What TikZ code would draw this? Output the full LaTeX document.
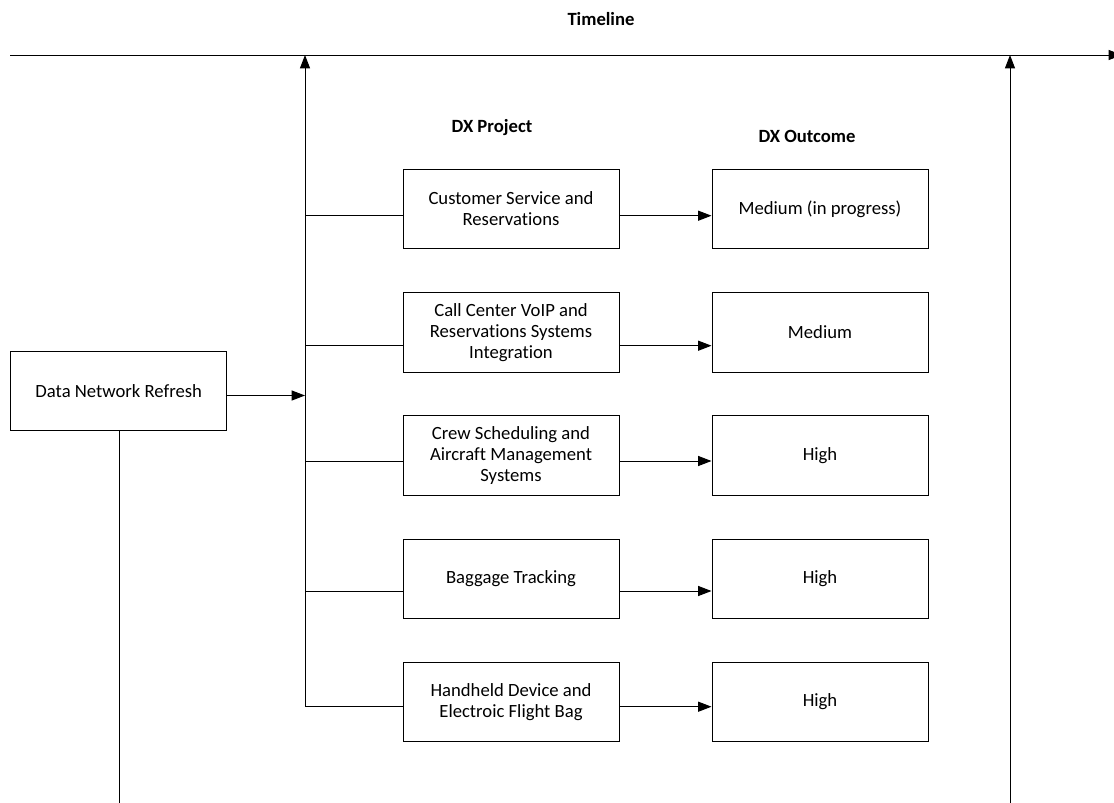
\documentclass[tikz,border=0pt]{standalone}
\usepackage{fontspec}
\setmainfont{Carlito}[Ligatures=NoCommon]
\usetikzlibrary{arrows.meta}
\begin{document}
\begin{tikzpicture}[x=0.75pt,y=-0.75pt,
  font=\fontsize{14}{15.75}\selectfont,
  line width=0.75pt,
  box/.style={draw, align=center, inner sep=2pt,
    minimum width=162pt, minimum height=59.5pt},
  head/.style={font=\fontsize{14}{16}\selectfont\bfseries},
  link/.style={-{Triangle[length=10pt,width=7.5pt]}},
  plain/.style={-}]
\useasboundingbox (0,0) rectangle (1114,803);

% headings
\node[head] (tl) at (601,19) {Timeline};
\node[head] (hp) at (492,128) {DX Project};
\node[head] (ho) at (807,136) {DX Outcome};

% timeline and the two upright markers
\coordinate (t0) at (10,55);
\coordinate (t1) at (1122,55);
\coordinate (sTop) at (305,55);
\coordinate (rTop) at (1010,55);
\coordinate (rBot) at (1010,803);
\draw[link] (t0) -- (t1);
\draw[link] (rBot) -- (rTop);

% source project
\node[box] (dnr) at (118.7,391.3) {Data Network Refresh};
\coordinate (dnrIn) at (305,395.5);
\coordinate (dnrBot) at (119,803);
\draw[plain] (dnr.south -| dnrBot) -- (dnrBot);

% projects and outcomes
\node[box] (p1) at (511,209) {Customer Service and\\Reservations};
\node[box] (p2) at (511,332.5) {Call Center VoIP and\\Reservations Systems\\Integration};
\node[box] (p3) at (511,455.5) {Crew Scheduling and\\Aircraft Management\\Systems};
\node[box] (p4) at (511,579) {Baggage Tracking};
\node[box] (p5) at (511,702) {Handheld Device and\\Electroic Flight Bag};

\node[box] (o1) at (820,209) {Medium (in progress)};
\node[box] (o2) at (820,332.5) {Medium};
\node[box] (o3) at (820,455.5) {High};
\node[box] (o4) at (820,579) {High};
\node[box] (o5) at (820,702) {High};

% branch points on the spine
\coordinate (s1) at (305,215.7);
\coordinate (s2) at (305,345.7);
\coordinate (s3) at (305,461);
\coordinate (s4) at (305,591);
\coordinate (s5) at (305,706.7);

\draw[link] (s5) -- (sTop);
\draw[link] (dnr.east |- dnrIn) -- (dnrIn);

\foreach \i in {1,...,5}{
  \draw[plain] (s\i) -- (s\i -| p\i.west);
  \draw[link] (s\i -| p\i.east) -- (s\i -| o\i.west);
}
\end{tikzpicture}
\end{document}
